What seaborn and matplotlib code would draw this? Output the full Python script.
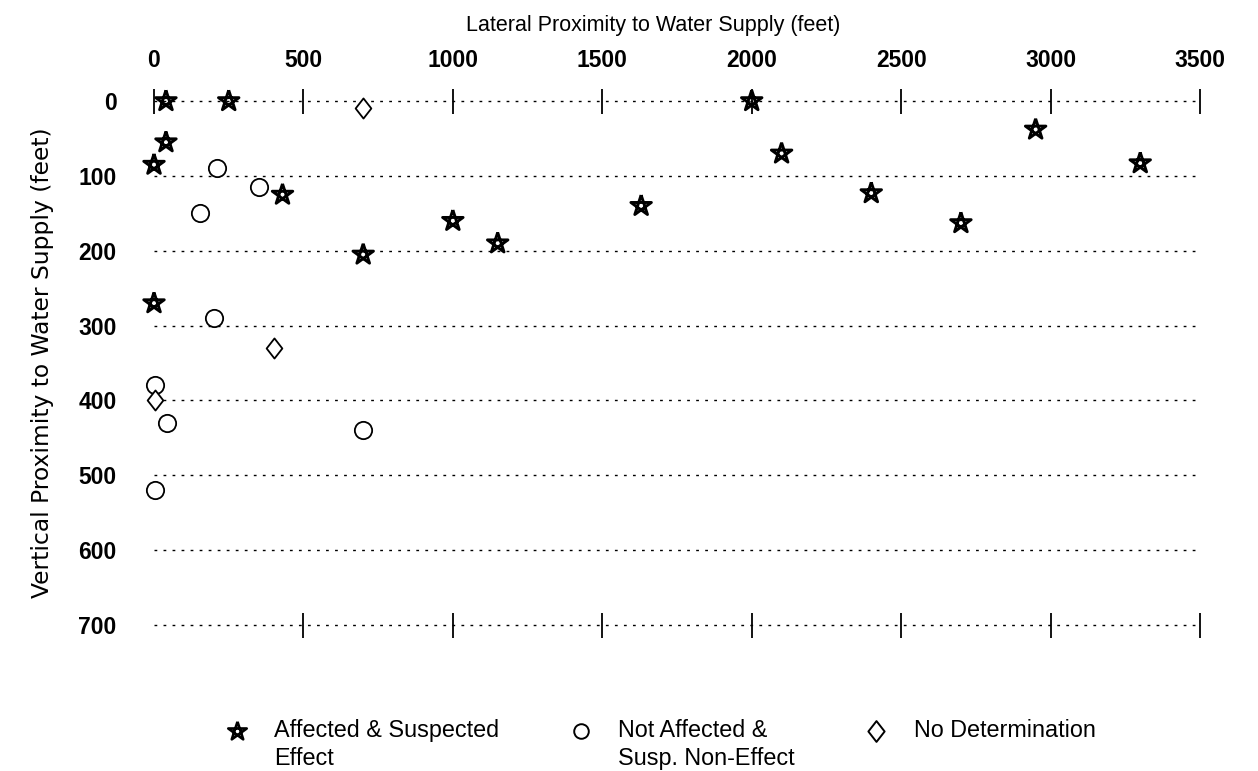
import numpy as np
import pandas as pd
import matplotlib
matplotlib.use("Agg")
import matplotlib.pyplot as plt
from matplotlib.lines import Line2D
from matplotlib.path import Path
import seaborn as sns

# -------------------------
# Data (feet)
# -------------------------
affected_x = [40, 250, 2000, 40, 0, 430, 1000, 1150, 700, 0, 2100, 2950, 3300, 1630, 2400, 2700]
affected_y = [0, 0, 0, 55, 85, 125, 160, 190, 205, 270, 70, 38, 83, 140, 123, 163]

not_affected_x = [210, 350, 155, 200, 5, 45, 700, 5]
not_affected_y = [90, 115, 150, 290, 380, 430, 440, 520]

no_det_x = [700, 400, 5]
no_det_y = [10, 330, 400]

labels = ["Affected & Suspected\nEffect", "Not Affected &\nSusp. Non-Effect", "No Determination"]
x_ticks = [0, 500, 1000, 1500, 2000, 2500, 3000, 3500]
y_ticks = [0, 100, 200, 300, 400, 500, 600, 700]

df = pd.concat([
    pd.DataFrame({"lateral": affected_x, "vertical": affected_y, "group": labels[0]}),
    pd.DataFrame({"lateral": not_affected_x, "vertical": not_affected_y, "group": labels[1]}),
    pd.DataFrame({"lateral": no_det_x, "vertical": no_det_y, "group": labels[2]}),
])

# -------------------------
# Marker shapes: line-drawn pentagram and a slightly narrow diamond
# -------------------------
ang = np.deg2rad(90 + 144 * np.arange(6))
star = Path(np.column_stack([np.cos(ang), np.sin(ang)]))
diamond = Path([(0, 1), (0.78, 0), (0, -1), (-0.78, 0), (0, 1)], closed=True)

# -------------------------
# Figure
# -------------------------
sns.set_style("white")
plt.rcParams["font.family"] = ["Liberation Sans", "DejaVu Sans"]
plt.rcParams["text.color"] = "black"
plt.rcParams["axes.labelcolor"] = "black"
plt.rcParams["xtick.color"] = "black"
plt.rcParams["ytick.color"] = "black"

fig = plt.figure(figsize=(12.58, 7.71), dpi=100)
ax = fig.add_axes([154 / 1258, 1 - 625 / 771, 1046 / 1258, 524 / 771])

styles = {
    labels[0]: dict(marker=star, s=240, linewidth=2.1, facecolor="none"),
    labels[1]: dict(marker="o", s=155, linewidth=1.3, facecolor="white"),
    labels[2]: dict(marker=diamond, s=210, linewidth=1.3, facecolor="white"),
}
for g, st in styles.items():
    sns.scatterplot(data=df[df["group"] == g], x="lateral", y="vertical", ax=ax,
                    edgecolor="black", legend=False, clip_on=False, zorder=3, **st)

ax.set_xlim(0, 3500)
ax.set_ylim(700, 0)
ax.set_xticks(x_ticks)
ax.set_yticks(y_ticks)
for s in ax.spines.values():
    s.set_visible(False)

# dotted rows at every 100 ft
ax.grid(axis="y", color="black", linestyle=(0, (2, 4.5)), linewidth=1.0)
ax.grid(axis="x", visible=False)
for gl in ax.get_ygridlines():
    gl.set_clip_on(False)

ax.tick_params(axis="x", top=True, bottom=True, labeltop=True, labelbottom=False,
               direction="inout", length=18, width=1.3, pad=12, labelsize=16.5)
ax.tick_params(axis="y", left=False, length=0, pad=27, labelsize=16.5)
for lab in ax.get_xticklabels() + ax.get_yticklabels():
    lab.set_fontweight("bold")
ax.xaxis.get_major_ticks()[0].tick1line.set_visible(False)

ax.xaxis.set_label_position("top")
ax.set_xlabel("Lateral Proximity to Water Supply (feet)", fontsize=15.5)
ax.xaxis.set_label_coords(0.477, 1.134)
ax.set_ylabel("Vertical Proximity to Water Supply (feet)", fontsize=16.8,
              family="DejaVu Sans")
ax.yaxis.set_label_coords(-0.096, 0.5)

# -------------------------
# Legend
# -------------------------
handles = [
    Line2D([], [], linestyle="none", marker=star, markersize=14, markerfacecolor="none",
           markeredgecolor="black", markeredgewidth=1.9),
    Line2D([], [], linestyle="none", marker="o", markersize=10.5, markerfacecolor="white",
           markeredgecolor="black", markeredgewidth=1.4),
    Line2D([], [], linestyle="none", marker=diamond, markersize=15, markerfacecolor="white",
           markeredgecolor="black", markeredgewidth=1.4),
]
# blank second line keeps the single-line entry level with the others
leg_labels = [labels[0], labels[1], labels[2] + "\n "]
leg = fig.legend(handles, leg_labels, loc="lower center", bbox_to_anchor=(0.525, -0.026),
                 ncol=3, frameon=False, fontsize=16.8, handlelength=1.0,
                 handletextpad=1.09, columnspacing=3.0)
for t in leg.get_texts():
    t.set_linespacing(1.3)
# put each marker level with the first text line
for h in leg.legend_handles:
    h.set_ydata(np.asarray(h.get_ydata()) + 10.0)

fig.savefig("out.png", dpi=100)
